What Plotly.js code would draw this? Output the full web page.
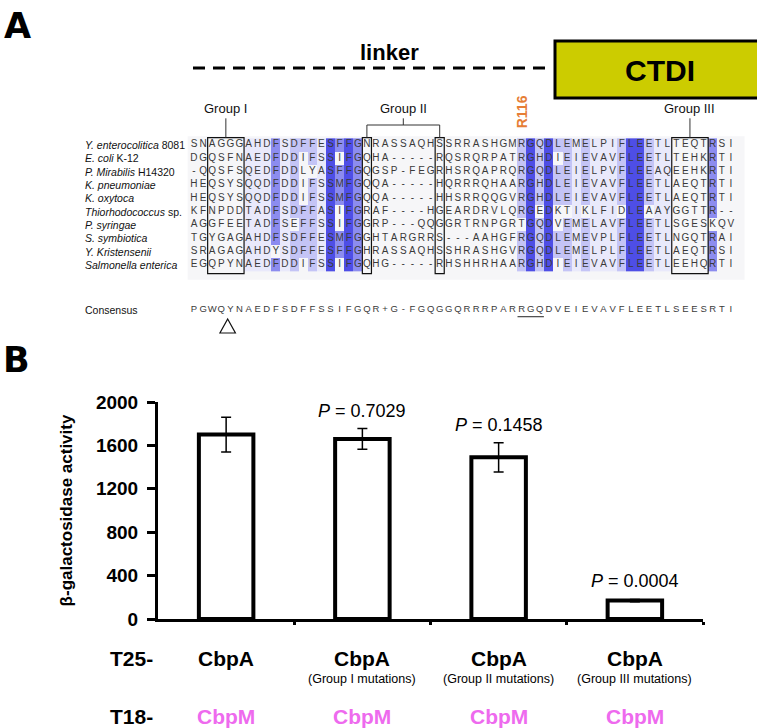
<!DOCTYPE html>
<html><head><meta charset="utf-8">
<script src="https://cdn.plot.ly/plotly-3.0.1.min.js"></script>
<style>html,body{margin:0;padding:0;background:#fff;} #chart{width:757px;height:728px;}</style>
</head><body><div id="chart"></div>
<script>
// ---------- Panel A data ----------
const speciesNames = [
  "<i>Y. enterocolitica</i> 8081", "<i>E. coli</i> K-12", "<i>P. Mirabilis</i> H14320",
  "<i>K. pneumoniae</i>", "<i>K. oxytoca</i>", "<i>Thiorhodococcus</i> sp.",
  "<i>P. syringae</i>", "<i>S. symbiotica</i>", "<i>Y. Kristensenii</i>", "<i>Salmonella enterica</i>"
];
const sequences = [
  "SNAGGGAHDFSDFFESFFGNRASSAQHSSRRASHGMRGQDLEMELPIFLEETLTEQTRSI",
  "DGQSFNAEDFDDIFSSIFGQHA-----RQSRQRPATRGHDIEIEVAVFLEETLTEHKRTI",
  "-QQSFSQEDFDDLYASFFGQGSP-FEGRHSRQAPRQRGQDLEIELPVFLEEAQEEHKRTI",
  "HEQSYSQQDFDDIFSSMFGQQA-----HQRRRQHAARGHDLEIEVAVFLEETLAEQTRTI",
  "HEQSYSQQDFDDIFSSMFGQQA-----HHSRRQQGVRGHDLEIEVAVFLEETLAEQTRTI",
  "KFNPDDTADFSDFFASIFGRAF----HGEARDRVLQRGEDKTIKLFIDLEAAYGGTTR--",
  "AGGFEETADFSEFFSSIFGGRP---QQGGRTRNPGRTGQDVEMELAVFLEETLSGESKQV",
  "TGYGAGAHDFSDFFESMFGGHTARGRRS---AAHGFRGQDLEMEVPLFLEETLNGQTRAI",
  "SRAGAGAHDYSDFFESFFGHRASSAQHSSHRASHGVRGQDLEMELPLFLEETLAEQTRSI",
  "EGQPYNAEDFDDIFSSIFGQHG-----RHSHHRHAARGHDIEIEVAVFLEETLEEHQRTI"
];
const consensus = "PGWQYNAEDFSDFFSSIFGQR+G-FGQGGQRRRPARRGQDVEIEVAVFLEETLSEESRTI";
// residues shaded in each column ('*' = every residue) and the shade level (0-4)
const shadeResidues = ["","","","","","","*","*","*","F","*","D","F","F","*","S","FM","F","G","",
  "","","","","","","","","","","","","","","","","R","G","QH","D",
  "L","E","*","E","*","*","*","F","L","E","E","*","*","","","","","R","",""];
const shadeLevels = [0,0,0,0,0,0,1,1,1,3,1,2,2,2,1,4,3,4,3,0,
  0,0,0,0,0,0,0,0,0,0,0,0,0,0,0,0,2,4,2,4,
  2,2,1,2,1,1,1,2,4,4,2,1,1,0,0,0,0,3,0,0];
const groupNames = ["Group I", "Group II", "Group III"];
const groupBoxes = [[3,6],[20,20],[28,28],[54,57]];   // column spans of boxed residues
const markerLabel = "R116", markerColumn = 37;
const motifColumn = 5;             // triangle under consensus
const underlineCols = [37, 39];    // RGQ underline

// ---------- Panel B data ----------
const t25Labels = ["CbpA", "CbpA", "CbpA", "CbpA"];
const t25Sub = ["", "(Group I mutations)", "(Group II mutations)", "(Group III mutations)"];
const t18Labels = ["CbpM", "CbpM", "CbpM", "CbpM"];
const activity = [1700, 1660, 1490, 170];
const activityErr = [160, 95, 135, 10];
const pValues = ["", "0.7029", "0.1458", "0.0004"];
const yTickVals = [0, 400, 800, 1200, 1600, 2000];

// ---------- build ----------
const W = 757, H = 728;
const px = v => v / W, py = v => 1 - v / H;
const FONT = "Liberation Sans, Arial, sans-serif";
const shadeColors = ["#e9e9fb", "#c4c4f6", "#8c8cef", "#4e4ee6"];

const nCol = sequences[0].length;
const cols = Array.from({length: nCol}, (_, i) => i + 1);
const rows = sequences.map((_, i) => i + 1);
const z = sequences.map(seq => seq.split("").map((ch, c) => {
  const lv = shadeLevels[c], rs = shadeResidues[c];
  if (!lv || ch === "-") return null;
  if (rs === "*" || rs.indexOf(ch) >= 0) return lv;
  return null;
}));

const lx = [], ly = [], lt = [];
sequences.forEach((seq, r) => seq.split("").forEach((ch, c) => { lx.push(c + 1); ly.push(r + 1); lt.push(ch); }));
const consRow = sequences.length + 3.38;
const cx = consensus.split("").map((_, c) => c + 1);

const traces = [
  {type: "heatmap", x: cols, y: rows, z: z, xaxis: "x", yaxis: "y", zmin: 0.5, zmax: 4.5,
   colorscale: [[0, shadeColors[0]], [0.25, shadeColors[0]], [0.25, shadeColors[1]], [0.5, shadeColors[1]],
                [0.5, shadeColors[2]], [0.75, shadeColors[2]], [0.75, shadeColors[3]], [1, shadeColors[3]]],
   showscale: false, hoverinfo: "skip"},
  {type: "scatter", mode: "text", x: lx, y: ly, text: lt, xaxis: "x", yaxis: "y",
   textfont: {family: FONT, size: 10, color: "#3a3a3a"}, hoverinfo: "skip", cliponaxis: false, showlegend: false},
  {type: "scatter", mode: "text", x: cx, y: cx.map(() => consRow), text: consensus.split(""), xaxis: "x", yaxis: "y",
   textfont: {family: FONT, size: 9.5, color: "#3a3a3a"}, hoverinfo: "skip", cliponaxis: false, showlegend: false},
  {type: "bar", x: [0, 1, 2, 3], y: activity, xaxis: "x2", yaxis: "y2", width: 0.4,
   marker: {color: "white", line: {color: "black", width: 4}},
   error_y: {type: "data", array: activityErr, visible: true, color: "black", thickness: 1.5, width: 5},
   hoverinfo: "skip", showlegend: false}
];

const shapes = [];
const annotations = [];
const ann = o => annotations.push(Object.assign({showarrow: false, xanchor: "center", yanchor: "middle"}, o));
// background of alignment block
shapes.push({type: "rect", xref: "x", yref: "y", x0: 0.3, x1: 61.5, y0: 0.35, y1: 11.1,
  fillcolor: "#f6f6f8", line: {width: 0}, layer: "below"});
// group boxes
groupBoxes.forEach(b => shapes.push({type: "rect", xref: "x", yref: "y", x0: b[0] - 0.5, x1: b[1] + 0.5,
  y0: 0.45, y1: 10.65, line: {color: "#111", width: 1.2}}));
// group brackets
const g1 = (groupBoxes[0][0] + groupBoxes[0][1]) / 2;
const g2a = groupBoxes[1][0], g2b = groupBoxes[2][0], g2 = (g2a + g2b) / 2;
const g3 = (groupBoxes[3][0] + groupBoxes[3][1]) / 2;
const ln = {color: "#333", width: 1};
shapes.push({type: "line", xref: "x", yref: "y", x0: g1, x1: g1, y0: -1.0, y1: 0.45, line: ln});
shapes.push({type: "line", xref: "x", yref: "y", x0: g3, x1: g3, y0: -1.0, y1: 0.45, line: ln});
shapes.push({type: "line", xref: "x", yref: "y", x0: g2a, x1: g2b, y0: -0.5, y1: -0.5, line: ln});
shapes.push({type: "line", xref: "x", yref: "y", x0: g2a, x1: g2a, y0: -0.5, y1: 0.45, line: ln});
shapes.push({type: "line", xref: "x", yref: "y", x0: g2b, x1: g2b, y0: -0.5, y1: 0.45, line: ln});
shapes.push({type: "line", xref: "x", yref: "y", x0: g2, x1: g2, y0: -1.0, y1: -0.5, line: ln});
[[g1, groupNames[0]], [g2, groupNames[1]], [g3, groupNames[2]]].forEach(([x, t]) =>
  ann({xref: "x", yref: "y", x: x, y: -1.75, text: t, font: {family: FONT, size: 13, color: "#111"}}));
// R116 marker
ann({xref: "x", yref: "y", x: markerColumn, y: -1.5, text: markerLabel, textangle: -90,
  font: {family: FONT, size: 14, color: "#e67e36", weight: "bold"}});
// species names
speciesNames.forEach((n, i) => ann({xref: "paper", yref: "y", x: px(83), y: i + 1, xanchor: "left",
  text: n, font: {family: FONT, size: 10.5, color: "#111"}}));
ann({xref: "paper", yref: "y", x: px(83), y: consRow, xanchor: "left", text: "Consensus",
  font: {family: FONT, size: 10.5, color: "#111"}});
// RGQ underline
shapes.push({type: "line", xref: "x", yref: "y", x0: underlineCols[0] - 0.45, x1: underlineCols[1] + 0.45,
  y0: consRow + 0.5, y1: consRow + 0.5, line: {color: "#222", width: 1}});
// triangle under consensus
const tx = motifColumn - 0.3, ty = consRow + 0.67;
shapes.push({type: "path", xref: "x", yref: "y",
  path: `M ${tx} ${ty} L ${tx + 0.85} ${ty + 1.05} L ${tx - 0.85} ${ty + 1.05} Z`,
  line: {color: "#111", width: 1.2}, fillcolor: "white"});
// linker + CTDI
shapes.push({type: "line", xref: "paper", yref: "paper", x0: px(193), x1: px(552), y0: py(68), y1: py(68),
  line: {color: "black", width: 3, dash: "12px,8px"}});
shapes.push({type: "rect", xref: "paper", yref: "paper", x0: px(555), x1: px(770), y0: py(98), y1: py(41),
  fillcolor: "#cccc00", line: {color: "black", width: 3}});
ann({xref: "paper", yref: "paper", x: px(389), y: py(53), text: "linker",
  font: {family: FONT, size: 22, color: "black", weight: "bold"}});
ann({xref: "paper", yref: "paper", x: px(660), y: py(70), text: "CTDI",
  font: {family: FONT, size: 30, color: "black", weight: "bold"}});
// panel letters
const LETTER_FONT = "DejaVu Sans, Liberation Sans, sans-serif";
ann({xref: "paper", yref: "paper", x: px(2), y: py(4), xanchor: "left", yanchor: "top", text: "A",
  font: {family: LETTER_FONT, size: 35, color: "black", weight: "bold"}});
ann({xref: "paper", yref: "paper", x: px(1), y: py(338), xanchor: "left", yanchor: "top", text: "B",
  font: {family: LETTER_FONT, size: 35, color: "black", weight: "bold"}});

// panel B labels
pValues.forEach((p, i) => { if (p) ann({xref: "x2", yref: "y2", x: i, y: activity[i] + activityErr[i],
  yanchor: "bottom", yshift: 6, text: "<i>P</i> = " + p, font: {family: FONT, size: 18, color: "black"}}); });
ann({xref: "paper", yref: "paper", x: px(131), y: py(658), text: "T25-",
  font: {family: FONT, size: 21, color: "black", weight: "bold"}});
ann({xref: "paper", yref: "paper", x: px(131), y: py(716), text: "T18-",
  font: {family: FONT, size: 21, color: "black", weight: "bold"}});
t25Labels.forEach((t, i) => {
  ann({xref: "x2", yref: "paper", x: i, y: py(658), text: t,
    font: {family: FONT, size: 21, color: "black", weight: "bold"}});
  if (t25Sub[i]) ann({xref: "x2", yref: "paper", x: i, y: py(679), text: t25Sub[i],
    font: {family: FONT, size: 12.5, color: "black"}});
  ann({xref: "x2", yref: "paper", x: i, y: py(716), text: t18Labels[i],
    font: {family: FONT, size: 21, color: "#ee6aee", weight: "bold"}});
});

const layout = {
  width: W, height: H, margin: {l: 0, r: 0, t: 0, b: 0}, paper_bgcolor: "white", plot_bgcolor: "rgba(0,0,0,0)",
  showlegend: false, font: {family: FONT},
  xaxis: {domain: [px(184.9), px(749.1)], range: [0, 62], visible: false, fixedrange: true},
  yaxis: {domain: [py(358.33), py(91.67)], range: [17, -3], visible: false, fixedrange: true},
  xaxis2: {domain: [px(158), px(703)], range: [-0.5, 3.5], anchor: "y2", showline: true, linewidth: 3, linecolor: "black",
    ticks: "outside", tickvals: [0.5, 1.5, 2.5, 3.5], ticklen: 3, tickwidth: 3, tickcolor: "black",
    showticklabels: false, showgrid: false, zeroline: false, fixedrange: true},
  yaxis2: {domain: [py(619), py(402)], range: [0, 2000], anchor: "x2", showline: true, linewidth: 3, linecolor: "black",
    ticks: "outside", tickvals: yTickVals, ticklen: 8, tickwidth: 3, tickcolor: "black", ticklabelstandoff: 5,
    tickfont: {family: FONT, size: 19, color: "black", weight: "bold"},
    showgrid: false, zeroline: false, fixedrange: true,
    title: {text: "β-galactosidase activity", font: {family: FONT, size: 17, color: "black", weight: "bold"}, standoff: 19}},
  shapes: shapes, annotations: annotations
};
Plotly.newPlot("chart", traces, layout, {staticPlot: true, displayModeBar: false});
</script></body></html>
